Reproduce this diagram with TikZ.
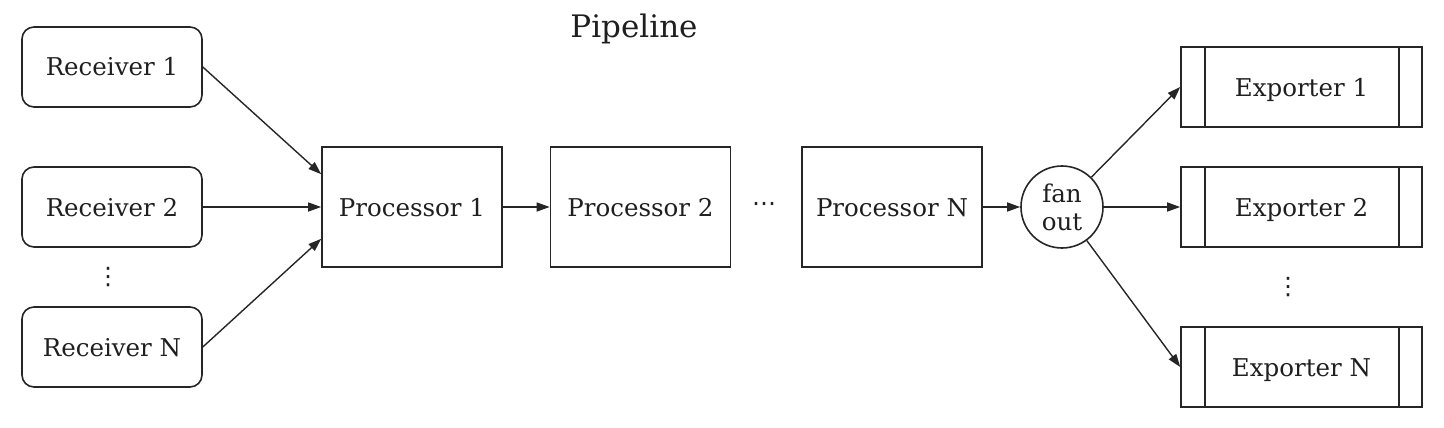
\documentclass[tikz,border=0pt]{standalone}
\usepackage{fontspec}
\setmainfont{DejaVu Serif}
\newfontfamily\symfont{DejaVu Sans}
\usetikzlibrary{arrows.meta,calc}
\begin{document}
\begin{tikzpicture}[x=1pt,y=-1pt,
  every node/.style={font=\fontsize{24.5}{28}\selectfont, text=black!88},
  box/.style={draw=black!85, line width=1.6pt, inner sep=0pt},
  lbl/.style={text height=18pt, text depth=0pt},
  recv/.style={box, lbl, rounded corners=12pt, minimum width=180pt, minimum height=80pt},
  proc/.style={box, lbl, minimum width=180pt, minimum height=120pt},
  expo/.style={box, lbl, minimum width=241pt, minimum height=80pt},
  fan/.style={box, circle, minimum size=82pt, align=center, font=\fontsize{24.5}{28}\selectfont},
  dots/.style={inner sep=0pt, font=\symfont\fontsize{24}{24}\selectfont},
  conn/.style={draw=black!85, line width=1.4pt, -{Triangle[length=13pt,width=9pt]}}
]
\useasboundingbox (0,0) rectangle (1444,428);
\node[font=\fontsize{31}{34}\selectfont] (title) at (634,29) {Pipeline};
\node[recv] (r1) at (112,67) {Receiver 1};
\node[recv] (r2) at (112,207) {Receiver 2};
\node[recv] (rn) at (112,347) {Receiver N};
\node[dots] (rdots) at (108,277) {⋮};
\node[proc] (p1) at (412,207) {Processor 1};
\node[proc] (p2) at (640.5,207) {Processor 2};
\node[dots] (pdots) at (764,207) {⋯};
\node[proc] (pn) at (892,207) {Processor N};
\node[fan] (fan) at (1062,207) {fan\\out};
\node[expo] (e1) at (1301.5,87) {Exporter 1};
\node[expo] (e2) at (1301.5,207) {Exporter 2};
\node[expo] (en) at (1301.5,367) {Exporter N};
\node[dots] (edots) at (1288,287) {⋮};
\foreach \e in {e1,e2,en}{
  \draw[draw=black!85, line width=1.6pt] ([xshift=25pt]\e.north west) -- ([xshift=25pt]\e.south west);
  \draw[draw=black!85, line width=1.6pt] ([xshift=-24pt]\e.north east) -- ([xshift=-24pt]\e.south east);
}
\draw[conn] (r1.east) -- ([yshift=-28pt]p1.north west);
\draw[conn] (r2.east) -- (p1.west);
\draw[conn] (rn.east) -- ([yshift=29pt]p1.south west);
\draw[conn] (p1.east) -- (p2.west);
\draw[conn] (pn.east) -- (fan.west);
\draw[conn] (fan) -- (e1.west);
\draw[conn] (fan) -- (e2.west);
\draw[conn] (fan) -- (en.west);
\end{tikzpicture}
\end{document}
